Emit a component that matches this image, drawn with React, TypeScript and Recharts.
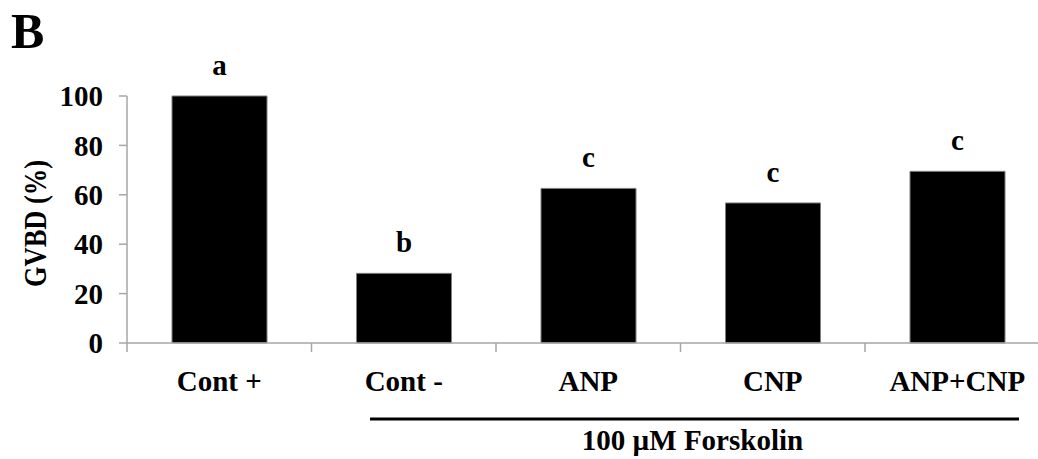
import { BarChart, Bar, XAxis, YAxis, LabelList } from 'recharts';

// values
const categories = ['Cont +', 'Cont -', 'ANP', 'CNP', 'ANP+CNP'];
const gvbd = [100, 28.2, 62.6, 56.7, 69.5];
const letters = ['a', 'b', 'c', 'c', 'c'];
const yTicks = [0, 20, 40, 60, 80, 100];

const FONT = '"Liberation Serif", "Times New Roman", serif';
const AXIS = '#a6a6a6';

const chartData = categories.map((name, i) => ({
  name,
  value: gvbd[i],
  letter: letters[i],
}));

// x tick: label under the bar plus a tick mark on the left boundary of each category
const CategoryTick = (props: any) => {
  const { x, y, payload } = props;
  const half = payload?.offset ?? 92;
  return (
    <g>
      <line x1={x - half} x2={x - half} y1={y - 9} y2={y} stroke={AXIS} strokeWidth={1.5} />
      <text x={x} y={y + 39} textAnchor="middle" fontFamily={FONT} fontWeight="bold" fontSize={29} fill="#000">
        {payload.value}
      </text>
    </g>
  );
};

export default function App() {
  return (
    <div style={{ position: 'absolute', left: 0, top: 0, width: 1038, height: 459, overflow: 'hidden', background: '#fff' }}>
      <BarChart
        width={1060}
        height={459}
        data={chartData}
        margin={{ top: 96, right: 10.5, bottom: 56, left: 27 }}
      >
        <XAxis
          dataKey="name"
          height={60}
          axisLine={{ stroke: AXIS, strokeWidth: 1.5 }}
          tickLine={false}
          tickSize={9}
          tickMargin={0}
          interval={0}
          tick={<CategoryTick />}
        />
        <YAxis
          width={100}
          domain={[0, 100]}
          ticks={yTicks}
          interval={0}
          axisLine={{ stroke: AXIS, strokeWidth: 1.5 }}
          tickLine={{ stroke: AXIS, strokeWidth: 1.5 }}
          tickSize={8}
          tickMargin={16}
          tick={{ fill: '#000', fontFamily: FONT, fontWeight: 'bold', fontSize: 29 }}
        />
        <Bar dataKey="value" fill="#000" stroke="#7f7f7f" strokeWidth={1} barSize={95} isAnimationActive={false}>
          <LabelList
            dataKey="letter"
            position="top"
            offset={21}
            fill="#000"
            fontFamily={FONT}
            fontWeight="bold"
            fontSize={29}
          />
        </Bar>
      </BarChart>
      <svg width={1038} height={459} style={{ position: 'absolute', left: 0, top: 0, pointerEvents: 'none' }}>
        <text x={11} y={48} fontFamily={FONT} fontWeight="bold" fontSize={50} fill="#000">B</text>
        <text
          x={0}
          y={0}
          transform="translate(45.5 223.5) rotate(-90)"
          textAnchor="middle"
          fontFamily={FONT}
          fontWeight="bold"
          fontSize={32}
          textLength={127}
          lengthAdjust="spacingAndGlyphs"
          fill="#000"
        >
          GVBD (%)
        </text>
        <line x1={370} x2={1019} y1={419} y2={419} stroke="#000" strokeWidth={3} />
        <text x={692.5} y={450} textAnchor="middle" fontFamily={FONT} fontWeight="bold" fontSize={29} fill="#000">
          100 µM Forskolin
        </text>
      </svg>
    </div>
  );
}
